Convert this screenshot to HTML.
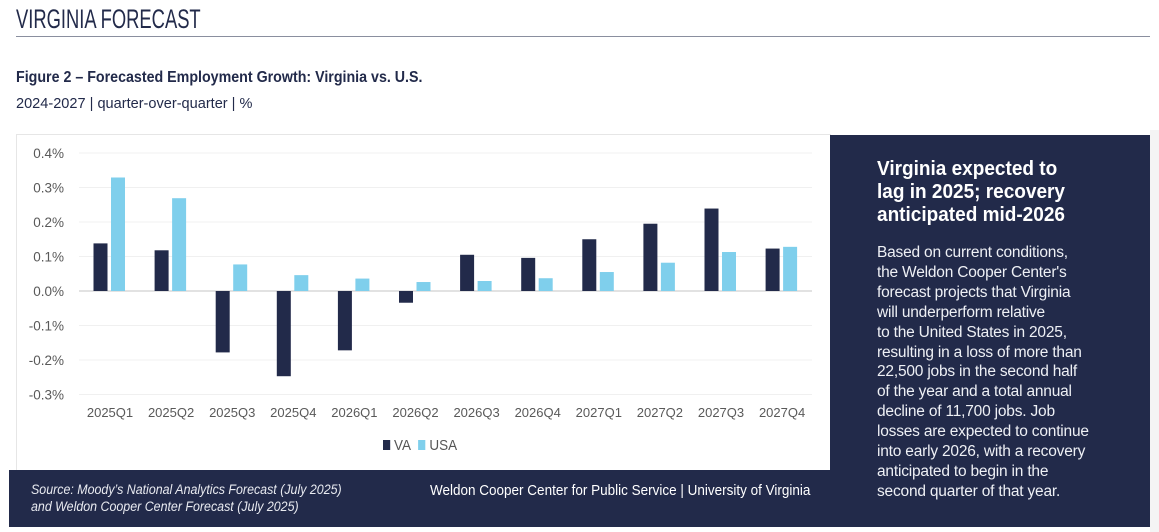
<!DOCTYPE html>
<html><head><meta charset="utf-8">
<style>
body{margin:0;width:1159px;height:532px;background:#fff;position:relative;overflow:hidden;font-family:"Liberation Sans",sans-serif;}
.abs{position:absolute;white-space:nowrap;}
.narrow{transform-origin:0 0;}
</style></head><body>
<div class="abs narrow" style="left:16px;top:4px;font-size:27px;color:#222a4a;transform:scaleX(0.68);">VIRGINIA FORECAST</div>
<div class="abs" style="left:16px;top:36px;width:1134px;height:1px;background:#8a8f9f;"></div>
<div class="abs narrow" style="left:16px;top:69px;font-size:16px;font-weight:bold;color:#222a4a;transform:scaleX(0.89);">Figure 2 – Forecasted Employment Growth: Virginia vs. U.S.</div>
<div class="abs narrow" style="left:16px;top:95px;font-size:15px;color:#222a4a;transform:scaleX(0.97);">2024-2027 | quarter-over-quarter | %</div>
<div class="abs" style="left:1150px;top:130px;width:9px;height:402px;background:#f4f4f4;"></div>
<div class="abs" style="left:16px;top:134px;width:813px;height:335px;border:1px solid #e6e6e6;border-bottom:1px solid #d0d0d0;background:#fff;"></div>
<svg class="abs" style="left:0;top:0" width="1159" height="532">
<g id="grid"></g><g id="bars"></g><g id="labels"></g>
</svg>
<div class="abs narrow" style="left:383px;top:437px;font-size:15px;color:#555;transform:scaleX(0.9);">
<span><span style="display:inline-block;width:8px;height:10px;background:#222a4a;"></span> VA</span>&nbsp;
<span><span style="display:inline-block;width:8px;height:10px;background:#7fcfec;"></span> USA</span></div>
<div class="abs" style="left:9px;top:470px;width:821px;height:57px;background:#222a4a;"></div>
<div class="abs narrow" style="left:31px;top:481px;font-size:13.5px;font-style:italic;color:#e8eaf0;line-height:17px;transform:scaleX(0.92);">Source: Moody’s National Analytics Forecast (July 2025)<br>and Weldon Cooper Center Forecast (July 2025)</div>
<div class="abs narrow" style="left:430px;top:482px;font-size:15px;color:#fff;transform:scaleX(0.90);">Weldon Cooper Center for Public Service | University of Virginia</div>
<div class="abs" style="left:830px;top:135px;width:320px;height:392px;background:#222a4a;"></div>
<div class="abs narrow" style="left:877px;top:158px;font-size:20px;font-weight:bold;color:#fff;line-height:23px;transform:scaleX(0.95);">Virginia expected to<br>lag in 2025; recovery<br>anticipated mid-2026</div>
<div class="abs" style="left:877px;top:243px;font-size:15.5px;color:#eef0f5;line-height:19.9px;letter-spacing:-0.2px;">Based on current conditions,<br>the Weldon Cooper Center's<br>forecast projects that Virginia<br>will underperform relative<br>to the United States in 2025,<br>resulting in a loss of more than<br>22,500 jobs in the second half<br>of the year and a total annual<br>decline of 11,700 jobs. Job<br>losses are expected to continue<br>into early 2026, with a recovery<br>anticipated to begin in the<br>second quarter of that year.</div>
<script>
const categories=["2025Q1","2025Q2","2025Q3","2025Q4","2026Q1","2026Q2","2026Q3","2026Q4","2027Q1","2027Q2","2027Q3","2027Q4"];
const vaValues=[0.138,0.118,-0.178,-0.247,-0.172,-0.034,0.105,0.096,0.150,0.195,0.239,0.123];
const usaValues=[0.329,0.269,0.077,0.046,0.036,0.026,0.029,0.037,0.055,0.082,0.113,0.128];
const yTicks=[0.4,0.3,0.2,0.1,0,-0.1,-0.2,-0.3];
const NS="http://www.w3.org/2000/svg";
function y(v){return 291-v*345;}
function xc(i){return 110+i*61.1;}
function mk(t,a,p){const e=document.createElementNS(NS,t);for(const k in a)e.setAttribute(k,a[k]);p.appendChild(e);return e;}
const grid=document.getElementById('grid'),bars=document.getElementById('bars'),labels=document.getElementById('labels');
yTicks.forEach(t=>{
 const l=mk('line',{x1:79,x2:812,y1:y(t),y2:y(t),stroke:t===0?'#e2e2e2':'#f0f0f0','stroke-width':t===0?2:1},grid);
 
 
 const tx=mk('text',{x:64,y:y(t)+5,'text-anchor':'end','font-size':13.5,fill:'#595959','font-family':'Liberation Sans, sans-serif'},labels);
 tx.textContent=t.toFixed(1)+'%';
 
 
});
categories.forEach((c,i)=>{
 const cx=xc(i);
 [[vaValues[i],'#222a4a',cx-16.5,'bar-va'],[usaValues[i],'#7fcfec',cx+1,'bar-usa']].forEach(([v,col,x,n])=>{
  const r=mk('rect',{x:x,y:Math.min(y(v),y(0)),width:14,height:Math.abs(y(v)-y(0)),fill:col},bars);
  
  
 });
 const tx=mk('text',{x:cx,y:417,'text-anchor':'middle','font-size':13,fill:'#595959','font-family':'Liberation Sans, sans-serif'},labels);
 tx.textContent=c;
 
 
});
</script>
</body></html>
